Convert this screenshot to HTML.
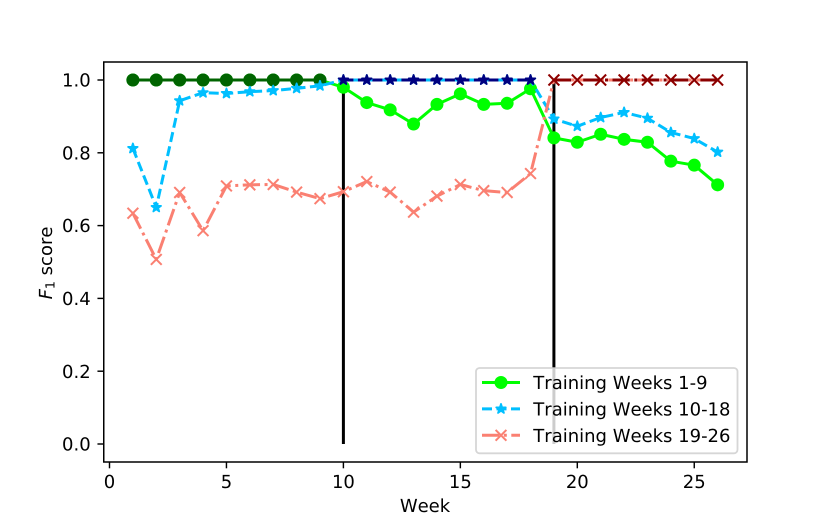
<!DOCTYPE html>
<html>
<head>
<meta charset="utf-8">
<title>F1 score by week</title>
<style>
html,body{margin:0;padding:0;background:#fff;width:830px;height:519px;overflow:hidden}
svg{display:block}
text{font-family:"DejaVu Sans","Liberation Sans",sans-serif;font-size:18px;fill:#000;text-rendering:geometricPrecision;font-kerning:none}
</style>
</head>
<body>
<svg id="chart" xmlns="http://www.w3.org/2000/svg" width="830" height="519" viewBox="0 0 830 519"></svg>
<script>
const weeks = [1,2,3,4,5,6,7,8,9,10,11,12,13,14,15,16,17,18,19,20,21,22,23,24,25,26];
const weeks1to9 = [1,2,3,4,5,6,7,8,9];
const weeks10to18 = [10,11,12,13,14,15,16,17,18];
const weeks19to26 = [19,20,21,22,23,24,25,26];
const modelWeeks1to9 = [1,1,1,1,1,1,1,1,1,0.98,0.938,0.918,0.879,0.933,0.962,0.933,0.936,0.976,0.841,0.829,0.851,0.837,0.829,0.777,0.766,0.712];
const modelWeeks10to18 = [0.812,0.650,0.943,0.965,0.963,0.968,0.971,0.977,0.984,1,1,1,1,1,1,1,1,1,0.893,0.873,0.897,0.911,0.895,0.856,0.839,0.802];
const modelWeeks19to26 = [0.634,0.507,0.691,0.586,0.709,0.712,0.713,0.692,0.674,0.693,0.721,0.692,0.637,0.681,0.713,0.696,0.691,0.743,1,1,1,1,1,1,1,1];
const selfWeeks1to9 = [1,1,1,1,1,1,1,1,1];
const selfWeeks10to18 = [1,1,1,1,1,1,1,1,1];
const selfWeeks19to26 = [1,1,1,1,1,1,1,1];
const retrainWeeks = [10,19];
const retrainFrom = [0,0];
const retrainTo = [1,1];
const xTickValues = [0,5,10,15,20,25];
const yTickValues = [0,0.2,0.4,0.6,0.8,1];
const yTickLabels = ['0.0','0.2','0.4','0.6','0.8','1.0'];
const legendLabels = ['Training Weeks 1-9','Training Weeks 10-18','Training Weeks 19-26'];

const NS = 'http://www.w3.org/2000/svg';
const svg = document.getElementById('chart');
const AX = {left:103.75, right:747, top:62, bottom:462};
const xScale = v => 109.5 + 23.39 * v;
const yScale = v => 444 - 364 * v;
const LW = 3;
const DASHED = '10 4.5';
const DASHDOT = '17.3 4.5 3 4.5';

function make(tag, attrs, parent) {
  const el = document.createElementNS(NS, tag);
  for (const k in attrs) el.setAttribute(k, attrs[k]);
  (parent || svg).appendChild(el);
  return el;
}
function group(name) {
  const g = make('g', {});
  
  
  return g;
}
function starPoints(cx, cy, R) {
  const r = R * 0.381966, pts = [];
  for (let i = 0; i < 10; i++) {
    const a = -Math.PI / 2 + i * Math.PI / 5, q = i % 2 ? r : R;
    pts.push((cx + q * Math.cos(a)).toFixed(2) + ',' + (cy + q * Math.sin(a)).toFixed(2));
  }
  return pts.join(' ');
}
function drawMarker(kind, x, y, color, parent) {
  if (kind === 'circle') {
    make('circle', {cx:x, cy:y, r:5.6, fill:color, stroke:color, 'stroke-width':1.8}, parent);
  } else if (kind === 'star') {
    make('polygon', {points:starPoints(x, y, 5), fill:color, stroke:color, 'stroke-width':1.8, 'stroke-linejoin':'round'}, parent);
  } else {
    const d = 5.4;
    make('path', {d:`M${x-d} ${y-d}L${x+d} ${y+d}M${x-d} ${y+d}L${x+d} ${y-d}`, fill:'none', stroke:color, 'stroke-width':2}, parent);
  }
}
function drawSeries(name, xs, ys, color, dash, marker) {
  const g = group(name);
  const pts = xs.map((v, i) => xScale(v).toFixed(2) + ',' + yScale(ys[i]).toFixed(2)).join(' ');
  const line = make('polyline', {points:pts, fill:'none', stroke:color, 'stroke-width':LW, 'stroke-linejoin':'round'}, g);
  if (dash) line.setAttribute('stroke-dasharray', dash);
  xs.forEach((v, i) => drawMarker(marker, xScale(v), yScale(ys[i]), color, g));
}

/* background */
const bg = make('rect', {x:AX.left, y:AX.top, width:AX.right-AX.left, height:AX.bottom-AX.top, fill:'#fff'});



/* retraining vertical lines */
const vg = group('retraining-lines');
retrainWeeks.forEach((w, i) => {
  const l = make('line', {x1:xScale(w), x2:xScale(w), y1:yScale(retrainFrom[i]), y2:yScale(retrainTo[i]), stroke:'#000', 'stroke-width':LW}, vg);
  
  
});

/* series */
drawSeries('series-training-weeks-1-9', weeks, modelWeeks1to9, '#00ff00', null, 'circle');
drawSeries('series-weeks-1-9-self', weeks1to9, selfWeeks1to9, '#006400', null, 'circle');
drawSeries('series-training-weeks-10-18', weeks, modelWeeks10to18, '#00bfff', DASHED, 'star');
drawSeries('series-weeks-10-18-self', weeks10to18, selfWeeks10to18, '#000080', DASHED, 'star');
drawSeries('series-training-weeks-19-26', weeks, modelWeeks19to26, '#fa8072', DASHDOT, 'x');
drawSeries('series-weeks-19-26-self', weeks19to26, selfWeeks19to26, '#8b0000', DASHDOT, 'x');

/* axes frame */
const frame = make('rect', {x:AX.left, y:AX.top, width:AX.right-AX.left, height:AX.bottom-AX.top, fill:'none', stroke:'#000', 'stroke-width':1.5});



/* x ticks */
const xg = group('x-axis');
xTickValues.forEach(v => {
  const x = xScale(v);
  make('line', {x1:x, x2:x, y1:AX.bottom, y2:AX.bottom+6.3, stroke:'#000', 'stroke-width':1.44}, xg);
  const t = make('text', {x:x, y:488, 'text-anchor':'middle'}, xg);
  t.textContent = String(v);
  
  
});

/* y ticks */
const yg = group('y-axis');
yTickValues.forEach((v, i) => {
  const y = yScale(v);
  make('line', {x1:AX.left-6.3, x2:AX.left, y1:y, y2:y, stroke:'#000', 'stroke-width':1.44}, yg);
  const t = make('text', {x:90.7, y:y+6.6, 'text-anchor':'end'}, yg);
  t.textContent = yTickLabels[i];
  
  
});

/* axis titles */
const xTitle = make('text', {x:425, y:512, 'text-anchor':'middle'});
xTitle.textContent = 'Week';



const yTitle = make('text', {transform:'translate(52 263) rotate(-90)', x:0, y:0, 'text-anchor':'middle'});


const tF = make('tspan', {'font-style':'italic'}, yTitle);
tF.textContent = 'F';
const tSub = make('tspan', {'font-size':'12.6px', dy:'2.7'}, yTitle);
tSub.textContent = '1';
const tRest = make('tspan', {dy:'-2.7'}, yTitle);
tRest.textContent = ' score';

/* legend */
const lg = group('legend');
make('rect', {x:476, y:368, width:261.5, height:85.3, rx:3.5, ry:3.5, fill:'#fff', 'fill-opacity':0.8, stroke:'#ccc', 'stroke-opacity':0.8, 'stroke-width':1.8}, lg);
const legendColors = ['#00ff00','#00bfff','#fa8072'];
const legendDash = [null, DASHED, DASHDOT];
const legendMarkers = ['circle','star','x'];
const legendRowY = [382.5, 408.9, 435.3];
const legendBase = [389.2, 415.6, 442.1];
legendLabels.forEach((label, i) => {
  const row = make('g', {}, lg);
  
  
  const h = make('line', {x1:482, x2:520, y1:legendRowY[i], y2:legendRowY[i], stroke:legendColors[i], 'stroke-width':LW}, row);
  if (legendDash[i]) h.setAttribute('stroke-dasharray', legendDash[i]);
  drawMarker(legendMarkers[i], 501, legendRowY[i], legendColors[i], row);
  const t = make('text', {x:533.3, y:legendBase[i]}, row);
  t.textContent = label;
});
</script>
</body>
</html>
